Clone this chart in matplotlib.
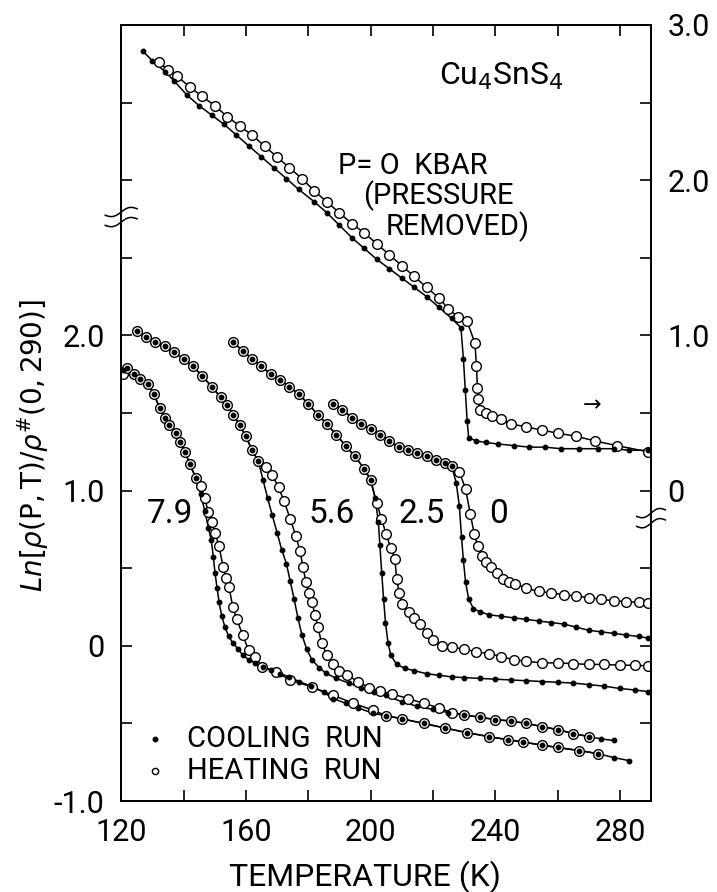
import matplotlib
matplotlib.use("Agg")
import matplotlib.pyplot as plt
import numpy as np

plt.rcParams['font.family'] = ['Roboto', 'DejaVu Sans']
plt.rcParams['mathtext.fontset'] = 'dejavusans'

# upper curve, P = 0 kbar after pressure removed (right-hand scale)
up_cool_T = [127, 130, 134, 137, 141, 145, 149, 153, 157, 161, 165, 169, 173, 177, 182, 186,
             190, 194, 198, 202, 206, 210, 214, 218, 222, 226, 229, 229.8, 230.4, 231, 231.5,
             234, 237, 241, 246, 251, 256, 261, 267, 273, 278, 283, 289]
up_cool_V = [2.83, 2.77, 2.70, 2.64, 2.55, 2.48, 2.42, 2.36, 2.29, 2.22, 2.15, 2.08, 2.01, 1.94,
             1.86, 1.79, 1.71, 1.63, 1.56, 1.49, 1.43, 1.37, 1.31, 1.25, 1.18, 1.11, 1.05, 0.85,
             0.65, 0.45, 0.34, 0.32, 0.31, 0.30, 0.29, 0.28, 0.28, 0.27, 0.27, 0.27, 0.27, 0.26, 0.26]
up_heat_T = [132, 135, 138, 142, 146, 150, 154, 158, 162, 166, 170, 174, 178, 182, 186, 190,
             194, 198, 202, 206, 210, 214, 218, 222, 225, 228, 231, 233.5, 234, 234.3, 234.6,
             235, 237, 239, 242, 245, 250, 255, 260, 266, 272, 279, 289]
up_heat_V = [2.76, 2.71, 2.67, 2.60, 2.54, 2.48, 2.41, 2.35, 2.29, 2.22, 2.15, 2.08, 2.01, 1.93,
             1.86, 1.79, 1.72, 1.66, 1.59, 1.52, 1.45, 1.38, 1.31, 1.24, 1.17, 1.12, 1.09, 0.95,
             0.80, 0.66, 0.59, 0.52, 0.50, 0.48, 0.46, 0.43, 0.41, 0.39, 0.37, 0.35, 0.32, 0.29, 0.25]

# lower curves under pressure (left-hand scale)
p0_cool_T = [188, 191, 194, 197, 200, 203, 206, 209, 212, 215, 218, 221, 224, 226, 227.5, 228.5,
             229.2, 229.8, 230.5, 231.5, 233, 235, 238, 242, 246, 250, 254, 258, 262, 266, 270,
             274, 278, 282, 286, 289]
p0_cool_V = [1.56, 1.52, 1.47, 1.43, 1.40, 1.36, 1.32, 1.28, 1.26, 1.24, 1.22, 1.20, 1.18, 1.16,
             1.05, 0.90, 0.70, 0.55, 0.41, 0.30, 0.24, 0.22, 0.20, 0.19, 0.18, 0.17, 0.16, 0.15,
             0.14, 0.12, 0.10, 0.09, 0.08, 0.07, 0.06, 0.05]
p0_heat_T = [188, 191, 194, 197, 200, 203, 206, 209, 212, 215, 218, 221, 224, 226, 228.5, 230.5,
             232, 233.3, 234.4, 235.7, 237, 238.8, 240.5, 242.6, 244.5, 246.5, 250, 254, 258, 262,
             266, 270, 274, 278, 282, 286, 289]
p0_heat_V = [1.56, 1.52, 1.47, 1.43, 1.40, 1.36, 1.32, 1.28, 1.26, 1.24, 1.22, 1.20, 1.18, 1.16,
             1.12, 1.01, 0.85, 0.72, 0.64, 0.58, 0.54, 0.51, 0.47, 0.43, 0.41, 0.40, 0.37, 0.35,
             0.34, 0.33, 0.32, 0.31, 0.30, 0.29, 0.285, 0.28, 0.275]

p25_cool_T = [156, 159, 162, 165, 168, 171, 174, 177, 180, 183, 186, 189, 192, 195, 198, 200,
              201.5, 202.5, 203, 203.6, 204.2, 204.8, 205.6, 206.5, 208.4, 211, 214, 218, 222, 226,
              230, 235, 240, 245, 250, 255, 260, 265, 270, 275, 280, 285, 289]
p25_cool_V = [1.955, 1.90, 1.85, 1.80, 1.75, 1.71, 1.67, 1.62, 1.56, 1.49, 1.43, 1.36, 1.29, 1.22,
              1.14, 1.07, 0.95, 0.80, 0.65, 0.47, 0.30, 0.15, 0.02, -0.06, -0.12, -0.145, -0.16,
              -0.18, -0.19, -0.20, -0.205, -0.21, -0.215, -0.22, -0.225, -0.23, -0.235, -0.24,
              -0.25, -0.26, -0.275, -0.285, -0.295]
p25_heat_T = [156, 159, 162, 165, 168, 171, 174, 177, 180, 183, 186, 189, 192, 195, 198, 200,
              202, 203.5, 205, 206.5, 207.8, 208.4, 209.2, 210.2, 212.2, 214, 216, 218, 220, 223,
              226, 230, 234, 238, 242, 246, 250, 255, 260, 265, 270, 275, 280, 285, 289]
p25_heat_V = [1.955, 1.90, 1.85, 1.80, 1.75, 1.71, 1.67, 1.62, 1.56, 1.49, 1.43, 1.36, 1.29, 1.22,
              1.14, 1.07, 0.92, 0.82, 0.72, 0.63, 0.56, 0.43, 0.34, 0.27, 0.22, 0.18, 0.14, 0.08,
              0.04, 0.00, -0.01, -0.02, -0.04, -0.05, -0.07, -0.09, -0.10, -0.11, -0.11, -0.115,
              -0.12, -0.12, -0.125, -0.125, -0.13]

p56_cool_T = [125, 128, 131, 134, 137, 140, 143, 146, 149, 152, 154, 156, 158, 160, 162, 164,
              165.5, 167, 168.5, 170, 171.5, 173, 174.2, 175.5, 176.7, 178, 179.5, 181.2, 183.5,
              185.6, 189, 193, 197, 201, 205, 210, 215, 220, 225, 230, 235, 240, 245, 250, 255,
              260, 265, 270, 274, 278]
p56_cool_V = [2.03, 1.99, 1.96, 1.93, 1.89, 1.85, 1.80, 1.74, 1.67, 1.60, 1.55, 1.49, 1.42, 1.35,
              1.26, 1.19, 1.07, 0.95, 0.84, 0.73, 0.62, 0.53, 0.42, 0.30, 0.18, 0.07, -0.02,
              -0.09, -0.14, -0.175, -0.21, -0.24, -0.27, -0.30, -0.32, -0.36, -0.39, -0.41, -0.43,
              -0.445, -0.46, -0.475, -0.485, -0.50, -0.52, -0.54, -0.565, -0.585, -0.60, -0.61]
p56_heat_T = [125, 128, 131, 134, 137, 140, 143, 146, 149, 152, 154, 156, 158, 160, 162, 164,
              166.5, 168.5, 170.5, 172.3, 174.2, 176, 177.4, 178.3, 179.3, 180.2, 181.2, 182.2,
              183.1, 184.3, 186, 188, 190, 192.6, 196, 199.5, 203, 207, 212, 217, 222, 226, 230,
              235, 240, 245, 250, 255, 260, 265, 270]
p56_heat_V = [2.03, 1.99, 1.96, 1.93, 1.89, 1.85, 1.80, 1.74, 1.67, 1.60, 1.55, 1.49, 1.42, 1.35,
              1.26, 1.19, 1.15, 1.10, 1.02, 0.93, 0.82, 0.71, 0.61, 0.51, 0.41, 0.34, 0.28, 0.20,
              0.12, 0.02, -0.06, -0.12, -0.16, -0.19, -0.23, -0.27, -0.29, -0.31, -0.34, -0.37,
              -0.40, -0.43, -0.445, -0.46, -0.475, -0.485, -0.50, -0.52, -0.54, -0.565, -0.585]

p79_cool_T = [120.5, 122, 124, 126, 128.5, 130.5, 132.4, 134, 135.5, 137.5, 139, 140.5, 142, 144,
              145.5, 146.8, 148, 148.9, 149.6, 150.1, 150.8, 151.4, 152.3, 153.3, 154.5, 155.8,
              157.5, 159, 161, 163, 165.5, 168, 171, 174, 177, 181, 185, 188, 192, 196, 200.8,
              205, 210, 217, 224, 231, 238, 244, 249, 255, 260, 267, 273, 278, 283]
p79_cool_V = [1.78, 1.79, 1.75, 1.72, 1.69, 1.62, 1.53, 1.47, 1.42, 1.37, 1.31, 1.25, 1.17, 1.08,
              0.98, 0.87, 0.76, 0.68, 0.57, 0.47, 0.37, 0.28, 0.19, 0.12, 0.06, 0.02, -0.02, -0.06,
              -0.09, -0.11, -0.135, -0.155, -0.18, -0.20, -0.23, -0.26, -0.30, -0.34, -0.37, -0.40,
              -0.435, -0.45, -0.47, -0.50, -0.53, -0.56, -0.585, -0.605, -0.62, -0.64, -0.655,
              -0.675, -0.695, -0.72, -0.74]
p79_heat_T = [120.5, 122, 124, 126, 128.5, 130.5, 132.4, 134, 135.5, 137.5, 139, 140.5, 142, 144,
              145.5, 146.8, 148, 149, 150.1, 151.4, 152.7, 153.6, 154.6, 155.8, 157.1, 159, 160.9,
              162.8, 165.3, 169.8, 174.2, 181.2, 188.1, 194.5, 200.8, 205, 210, 217, 224, 231,
              238, 244, 249, 255, 260, 267, 273]
p79_heat_V = [1.75, 1.79, 1.75, 1.72, 1.69, 1.62, 1.53, 1.47, 1.42, 1.37, 1.31, 1.25, 1.17, 1.08,
              1.03, 0.95, 0.86, 0.80, 0.73, 0.64, 0.51, 0.44, 0.38, 0.25, 0.17, 0.07, -0.03, -0.07,
              -0.135, -0.17, -0.22, -0.265, -0.32, -0.37, -0.415, -0.45, -0.47, -0.50, -0.53,
              -0.56, -0.585, -0.605, -0.62, -0.64, -0.655, -0.675, -0.695]

lower_runs = [(p0_cool_T, p0_cool_V, p0_heat_T, p0_heat_V),
              (p25_cool_T, p25_cool_V, p25_heat_T, p25_heat_V),
              (p56_cool_T, p56_cool_V, p56_heat_T, p56_heat_V),
              (p79_cool_T, p79_cool_V, p79_heat_T, p79_heat_V)]
pressure_labels = ['0', '2.5', '5.6', '7.9']
pressure_label_T = [241, 216.5, 187.5, 135.5]

x_ticks = [120, 140, 160, 180, 200, 220, 240, 260, 280]
x_labels = ['120', '', '160', '', '200', '', '240', '', '280']
left_ticks = [-1.0, -0.5, 0, 0.5, 1.0, 1.5, 2.0, 2.5, 3.0, 3.5]
left_labels = ['-1.0', '', '0', '', '1.0', '', '2.0', '', '', '']
right_ticks = [-1.5, -1.0, -0.5, 0, 0.5, 1.0, 1.5, 2.0, 2.5, 3.0]
right_labels = ['', '', '', '0', '', '1.0', '', '2.0', '', '3.0']

fig = plt.figure(figsize=(7.17, 8.92), dpi=100)
ax = fig.add_axes([0.169, 0.102, 0.739, 0.870])
ax2 = ax.twinx()

ax.set_xlim(120, 290)
ax.set_ylim(-1.0, 4.0)
ax2.set_ylim(-2.0, 3.0)

lw = 1.1
def draw_run(a, tc, vc, th, vh):
    a.plot(tc, vc, '-', color='k', lw=lw)
    a.plot(th, vh, '-', color='k', lw=lw)
    a.plot(th, vh, 'o', ms=7, mfc='white', mec='k', mew=1.0)
    a.plot(tc, vc, 'o', ms=3.2, color='k')

for tc, vc, th, vh in lower_runs:
    draw_run(ax, tc, vc, th, vh)
draw_run(ax2, up_cool_T, up_cool_V, up_heat_T, up_heat_V)

for lab, t in zip(pressure_labels, pressure_label_T):
    ax.text(t, 0.85, lab, fontsize=24, ha='center', va='center')

ax.text(242, 3.67, 'Cu$_4$SnS$_4$', fontsize=23, ha='center', va='center')
ax.text(189.5, 3.09, 'P= O  KBAR', fontsize=21, ha='left', va='center')
ax.text(197.5, 2.90, '(PRESSURE', fontsize=21, ha='left', va='center')
ax.text(205, 2.70, 'REMOVED)', fontsize=21, ha='left', va='center')
ax.text(271, 1.55, '→', fontsize=16, ha='center', va='center')

# legend
ax.plot([131], [-0.60], 'o', ms=3.2, color='k')
ax.plot([131], [-0.805], 'o', ms=4.5, mfc='white', mec='k', mew=1.0)
ax.text(141, -0.60, 'COOLING  RUN', fontsize=21, ha='left', va='center')
ax.text(141, -0.805, 'HEATING  RUN', fontsize=21, ha='left', va='center')

ax.set_xticks(x_ticks)
ax.set_xticklabels(x_labels)
ax.set_yticks(left_ticks)
ax.set_yticklabels(left_labels)
ax2.set_yticks(right_ticks)
ax2.set_yticklabels(right_labels)

ax.tick_params(axis='both', direction='in', length=8, width=1.2, labelsize=22,
               top=True, right=False)
ax.tick_params(axis='x', pad=12)
ax.tick_params(axis='y', pad=12)
ax2.tick_params(axis='y', direction='in', length=8, width=1.2, labelsize=22, pad=12)
for a in (ax, ax2):
    for s in a.spines.values():
        s.set_linewidth(1.4)

# axis break marks on both spines
bx = np.linspace(-1, 1, 30)
by = 0.35 * bx + 0.3 * np.sin(np.pi * bx)
for x0, y0, w in [(0.0, 0.746, 0.030), (1.0, 0.358, 0.027)]:
    ax.plot([x0, x0], [y0 - 0.004, y0 + 0.016], color='white', lw=3,
            transform=ax.transAxes, clip_on=False, zorder=5)
    for dy in (0.0, 0.013):
        ax.plot(x0 + w * bx, y0 + dy + 0.012 * by, color='k', lw=1.1,
                transform=ax.transAxes, clip_on=False, zorder=6)

fig.text(0.046, 0.50, r'$Ln[\rho(\mathrm{P,T})/\rho^{\#}(\mathrm{0,290})]$',
         rotation=90, fontsize=20, ha='center', va='center')
fig.text(0.509, 0.017, 'TEMPERATURE (K)', fontsize=23, ha='center', va='center')

fig.savefig('out.png', dpi=100)
